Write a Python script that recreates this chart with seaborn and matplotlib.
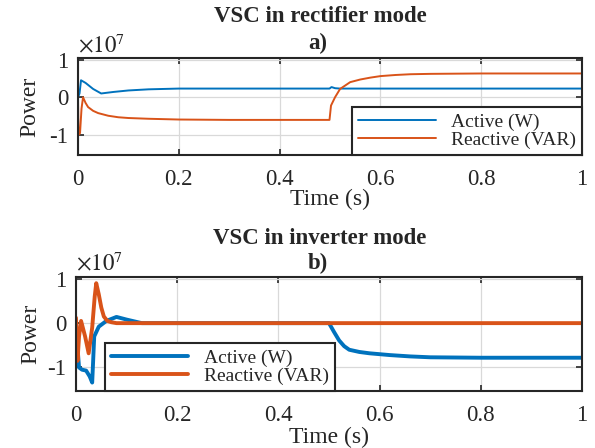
import matplotlib
matplotlib.use("Agg")
import matplotlib.pyplot as plt
import seaborn as sns

# Rectifier mode (values in W / VAR)
t_act_a = [0, 0.003, 0.006, 0.015, 0.03, 0.046, 0.07, 0.1, 0.14, 0.2, 0.499, 0.503, 0.51, 0.52, 1.0]
p_act_a = [0, 0.1e7, 0.45e7, 0.38e7, 0.22e7, 0.1e7, 0.14e7, 0.18e7, 0.21e7, 0.23e7, 0.23e7, 0.27e7, 0.24e7, 0.23e7, 0.23e7]
t_rea_a = [0, 0.001, 0.004, 0.007, 0.01, 0.015, 0.02, 0.03, 0.04, 0.06, 0.08, 0.1, 0.14, 0.2, 0.3, 0.499,
           0.502, 0.51, 0.52, 0.54, 0.56, 0.58, 0.6, 0.63, 0.66, 0.7, 0.8, 1.0]
p_rea_a = [0, -1.0e7, -0.95e7, -0.3e7, 0.0, -0.15e7, -0.26e7, -0.36e7, -0.42e7, -0.49e7, -0.53e7, -0.55e7,
           -0.57e7, -0.59e7, -0.6e7, -0.6e7, -0.22e7, 0.0, 0.22e7, 0.4e7, 0.47e7, 0.52e7, 0.56e7, 0.59e7, 0.61e7,
           0.62e7, 0.63e7, 0.63e7]

# Inverter mode
t_act_b = [0, 0.003, 0.006, 0.012, 0.02, 0.027, 0.032, 0.036, 0.045, 0.06, 0.08, 0.1, 0.13, 0.5,
           0.51, 0.52, 0.53, 0.54, 0.56, 0.58, 0.62, 0.66, 0.7, 0.8, 1.0]
p_act_b = [0, -0.55e7, -1.0e7, -1.05e7, -1.07e7, -1.2e7, -1.34e7, -0.3e7, -0.08e7, 0.05e7, 0.14e7, 0.08e7, 0.0, 0.0,
           -0.2e7, -0.39e7, -0.52e7, -0.6e7, -0.65e7, -0.68e7, -0.72e7, -0.75e7, -0.77e7, -0.78e7, -0.78e7]
t_rea_b = [0, 0.003, 0.006, 0.01, 0.018, 0.025, 0.032, 0.037, 0.04, 0.045, 0.05, 0.055, 0.062, 0.07, 0.08, 0.1, 1.0]
p_rea_b = [0.12e7, -0.85e7, -0.3e7, 0.05e7, -0.3e7, -0.68e7, -0.1e7, 0.6e7, 0.9e7, 0.65e7, 0.35e7, 0.15e7,
           0.05e7, 0.02e7, 0.0, 0.0, 0.0]

series_labels = ["Active (W)", "Reactive (VAR)"]
x_ticks = [0, 0.2, 0.4, 0.6, 0.8, 1.0]
x_ticklabels = ["0", "0.2", "0.4", "0.6", "0.8", "1"]
y_ticks = [-1e7, 0, 1e7]
y_ticklabels = ["-1", "0", "1"]
blue = "#0072BD"
orange = "#D95319"

sns.set_style("ticks")
plt.rcParams["font.family"] = ["Liberation Serif", "DejaVu Serif"]
plt.rcParams["mathtext.fontset"] = "stix"
plt.rcParams["axes.unicode_minus"] = False

fig = plt.figure(figsize=(5.95, 4.48), dpi=100)
ax1 = fig.add_axes([78 / 595, 1 - 155 / 448, 504 / 595, 97 / 448])
ax2 = fig.add_axes([76 / 595, 1 - 391 / 448, 506 / 595, 114 / 448])


def style(ax, xlab_y, ylab_x):
    ax.set_xlim(0, 1)
    ax.set_ylim(-1.53e7, 1.04e7)
    ax.set_xticks(x_ticks)
    ax.set_xticklabels(x_ticklabels)
    ax.set_yticks(y_ticks)
    ax.set_yticklabels(y_ticklabels)
    ax.text(0.0, 1.01, r"$\times10^{7}$", transform=ax.transAxes, fontsize=16.5, ha="left", va="bottom")
    ax.grid(True, color="#d9d9d9", linewidth=0.9)
    ax.tick_params(direction="in", top=True, right=True, labelsize=16.5, length=4, width=1.2)
    ax.tick_params(axis="x", pad=10)
    ax.tick_params(axis="y", pad=7)
    for s in ax.spines.values():
        s.set_linewidth(1.5)
        s.set_color("#262626")
    ax.set_xlabel("Time (s)", fontsize=17, va="center")
    ax.set_ylabel("Power", fontsize=17, va="center")
    ax.xaxis.set_label_coords(0.5, xlab_y)
    ax.yaxis.set_label_coords(ylab_x, 0.5)


sns.lineplot(x=t_act_a, y=p_act_a, ax=ax1, color=blue, linewidth=1.4, sort=False, estimator=None, label=series_labels[0])
sns.lineplot(x=t_rea_a, y=p_rea_a, ax=ax1, color=orange, linewidth=1.4, sort=False, estimator=None, label=series_labels[1])
sns.lineplot(x=t_act_b, y=p_act_b, ax=ax2, color=blue, linewidth=2.8, sort=False, estimator=None, label=series_labels[0])
sns.lineplot(x=t_rea_b, y=p_rea_b, ax=ax2, color=orange, linewidth=2.8, sort=False, estimator=None, label=series_labels[1])

style(ax1, -0.46, -0.095)
style(ax2, -0.405, -0.09)

leg1 = ax1.legend(loc="lower right", bbox_to_anchor=(1.0, 0.0), fontsize=14, frameon=True, fancybox=False,
                  handlelength=4.0, borderpad=0.3, labelspacing=0.05, borderaxespad=0)
leg2 = ax2.legend(loc="lower left", bbox_to_anchor=(0.057, 0.0), fontsize=14, frameon=True, fancybox=False,
                  handlelength=4.0, borderpad=0.3, labelspacing=0.05, borderaxespad=0)
for leg in (leg1, leg2):
    leg.get_frame().set_edgecolor("#262626")
    leg.get_frame().set_linewidth(1.5)
    leg.get_frame().set_alpha(1)

fig.text(320 / 595, 1 - 17 / 448, "VSC in rectifier mode", ha="center", va="center", fontsize=16.5, fontweight="bold")
fig.text(318 / 595, 1 - 43 / 448, "a)", ha="center", va="center", fontsize=16.5, fontweight="bold")
fig.text(320 / 595, 1 - 238 / 448, "VSC in inverter mode", ha="center", va="center", fontsize=16.5, fontweight="bold")
fig.text(318 / 595, 1 - 263 / 448, "b)", ha="center", va="center", fontsize=16.5, fontweight="bold")

fig.savefig("out.png", dpi=100)
